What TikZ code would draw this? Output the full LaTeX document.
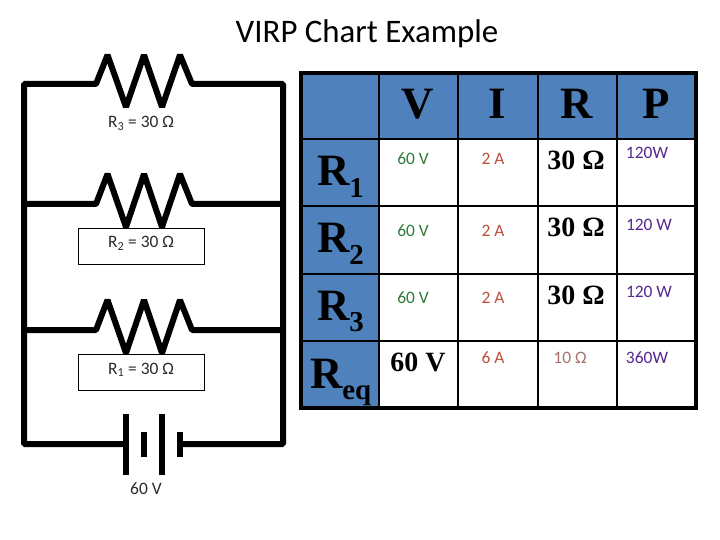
\documentclass[tikz,border=0pt]{standalone}
\usepackage{fontspec}
\setmainfont{Carlito}
\newfontfamily\serifbold[BoldFont={Liberation Serif Bold}]{Liberation Serif}
\definecolor{hdrblue}{HTML}{4F81BD}
\definecolor{vgreen}{HTML}{2F7A35}
\definecolor{ared}{HTML}{BF4F3A}
\definecolor{ppurple}{HTML}{54288C}
\definecolor{rbrown}{HTML}{A8706A}
\definecolor{lblgray}{HTML}{2A2A2A}
\newcommand{\sizedfont}[1]{\fontsize{#1}{#1}\selectfont}
\newcommand{\sersub}[2]{\raisebox{-0.25em}{\sizedfont{#2}#1}}
\tikzset{
  wire/.style={line width=6bp,line join=bevel,line cap=butt},
  platewire/.style={line width=6bp,line cap=butt},
  gridline/.style={line width=2.4bp},
  outerline/.style={line width=3.4bp},
  labelbox/.style={draw=black,line width=0.7bp},
  base/.style={inner sep=0pt,outer sep=0pt,anchor=base,yshift=-1bp},
  lefttext/.style={inner sep=0pt,outer sep=0pt,anchor=base west,yshift=-1bp},
  cirlabel/.style={base,font=\sizedfont{17.5}\color{lblgray}},
  titletext/.style={base,font=\sizedfont{33}},
  hdr/.style={base,font=\serifbold\bfseries\sizedfont{45}},
  rowhdr/.style={lefttext,font=\serifbold\bfseries\sizedfont{45}},
  bigval/.style={base,font=\serifbold\bfseries\sizedfont{28}},
  vval/.style={base,font=\sizedfont{17.5}\color{vgreen}},
  aval/.style={base,font=\sizedfont{17.5}\color{ared}},
  pval/.style={base,font=\sizedfont{17.5}\color{ppurple}},
  rval/.style={base,font=\sizedfont{17.5}\color{rbrown}}
}
\begin{document}
\begin{tikzpicture}[x=1bp,y=-1bp]
\useasboundingbox (0,0) rectangle (720,540);
\fill[white] (0,0) rectangle (720,540);
\node[titletext] (title) at (367,42) {VIRP Chart Example};

% circuit corners
\coordinate (tl) at (24,84);
\coordinate (tr) at (283,84);
\coordinate (bl) at (24,444);
\coordinate (br) at (283,444);
\coordinate (m2l) at (24,204);
\coordinate (m2r) at (283,204);
\coordinate (m1l) at (24,330);
\coordinate (m1r) at (283,330);

% outer loop with battery gap
\coordinate (batL) at (126,444);
\coordinate (batR) at (180,444);
\draw[wire] (batL) -- (bl) -- (tl) -- (96,84) -- (107.5,55) -- (126,107) -- (144,55) -- (162,107) -- (180,55) -- (192,84) -- (tr) -- (br) -- (batR);
\draw[wire] (m2l) -- (96,204) -- (107.5,174) -- (126,227) -- (144,174) -- (162,227) -- (180,174) -- (192,204) -- (m2r);
\draw[wire] (m1l) -- (96,330) -- (107.5,300) -- (126,353) -- (144,300) -- (162,353) -- (180,300) -- (192,330) -- (m1r);

% battery plates
\coordinate (p1a) at (126,414); \coordinate (p1b) at (126,475);
\coordinate (p2a) at (144,432); \coordinate (p2b) at (144,457);
\coordinate (p3a) at (162,414); \coordinate (p3b) at (162,475);
\coordinate (p4a) at (180,432); \coordinate (p4b) at (180,457);
\draw[platewire] (p1a) -- (p1b);
\draw[platewire] (p2a) -- (p2b);
\draw[platewire] (p3a) -- (p3b);
\draw[platewire] (p4a) -- (p4b);

% labels
\draw[labelbox,fill=white] (78,228) rectangle (204,264);
\draw[labelbox,fill=white] (78,354) rectangle (204,390);
\node[cirlabel] (l3) at (141,127) {R\textsubscript{3} = 30 Ω};
\node[cirlabel] (l2) at (141,247) {R\textsubscript{2} = 30 Ω};
\node[cirlabel] (l1) at (141,373) {R\textsubscript{1} = 30 Ω};
\node[cirlabel] (lb) at (146,493) {60 V};

% table
\fill[hdrblue] (301,73) rectangle (696,139);
\fill[hdrblue] (301,139) rectangle (379,408);
\foreach \gx in {379,458,538,617}{\draw[gridline] (\gx,73) -- (\gx,408);}
\foreach \gy in {139,206,274,341}{\draw[gridline] (301,\gy) -- (696,\gy);}
\draw[outerline] (301,73) rectangle (696,408);

\node[hdr] (hv) at (418,118) {V};
\node[hdr] (hi) at (497,118) {I};
\node[hdr] (hr) at (577,118) {R};
\node[hdr] (hp) at (656,118) {P};

\node[rowhdr] (r1) at (317,185) {R\sersub{1}{29}};
\node[rowhdr] (r2) at (317,252) {R\sersub{2}{29}};
\node[rowhdr] (r3) at (317,319) {R\sersub{3}{29}};
\node[rowhdr] (req) at (310,387) {R\sersub{eq}{29}};

\node[vval] (v1) at (413,164) {60 V};
\node[vval] (v2) at (413,236) {60 V};
\node[vval] (v3) at (413,302) {60 V};
\node[bigval] (v4) at (418,370) {60 V};

\node[aval] (a1) at (493,164) {2 A};
\node[aval] (a2) at (493,236) {2 A};
\node[aval] (a3) at (493,302) {2 A};
\node[aval] (a4) at (493,362) {6 A};

\node[bigval] (o1) at (576,169) {30 Ω};
\node[bigval] (o2) at (576,236) {30 Ω};
\node[bigval] (o3) at (576,303) {30 Ω};
\node[rval] (o4) at (570,362) {10 Ω};

\node[pval] (w1) at (647,158) {120W};
\node[pval] (w2) at (649,230) {120 W};
\node[pval] (w3) at (649,296) {120 W};
\node[pval] (w4) at (647,362) {360W};
\end{tikzpicture}
\end{document}
